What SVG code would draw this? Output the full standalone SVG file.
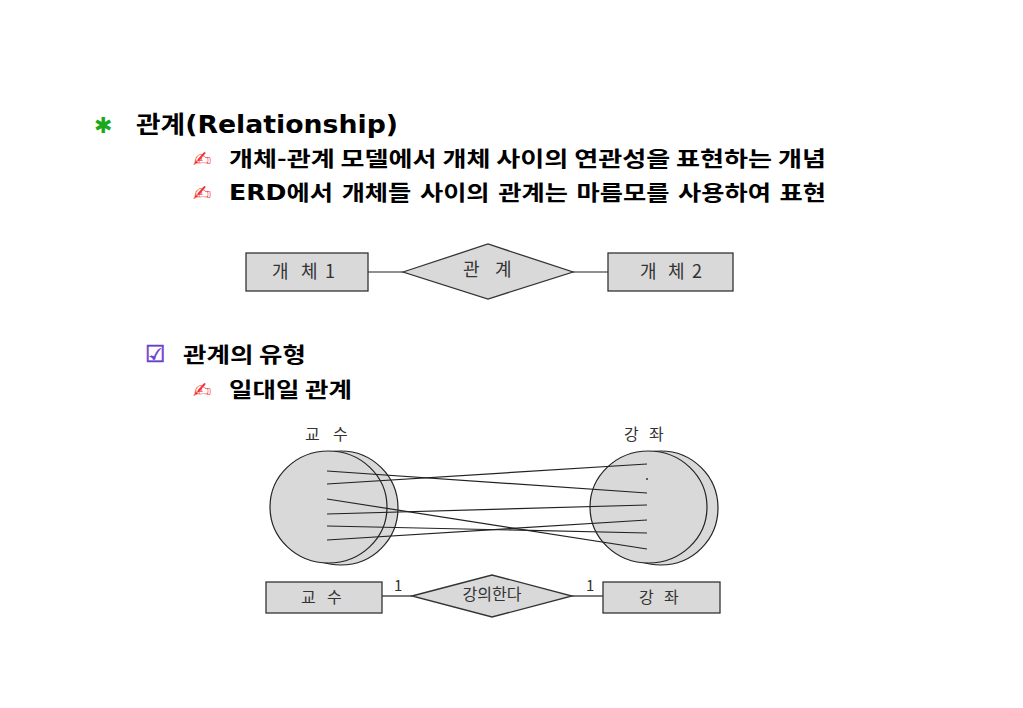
<svg xmlns="http://www.w3.org/2000/svg" width="1023" height="708" viewBox="0 0 1023 708">
<style>
.h{font-family:"DejaVu Sans","Noto Sans CJK KR",sans-serif;font-weight:bold;fill:#000}
.k{font-family:"Noto Sans CJK KR",sans-serif;font-weight:bold;fill:#000}
.d{font-family:"Noto Sans CJK KR","DejaVu Sans",sans-serif;fill:#333}
.box{fill:#d9d9d9;stroke:#333;stroke-width:1.3}
.ln{stroke:#222;stroke-width:1.2;fill:none}
.circ{fill:#d9d9d9;stroke:#222;stroke-width:1.2}
.pen{font-family:"DejaVu Sans",sans-serif;fill:#f03030;font-size:22px}
</style>
<rect width="1023" height="708" fill="#fff"/>
<g id="header">
<text x="94" y="133" font-family="DejaVu Sans,sans-serif" font-size="22" font-weight="bold" fill="#1ca81c">✱</text>
<text class="h" x="136" y="133" font-size="24" textLength="262" lengthAdjust="spacingAndGlyphs">관계(Relationship)</text>
<text class="pen" x="193" y="167">✍</text>
<text class="k" x="229" y="166" font-size="21" textLength="597" lengthAdjust="spacingAndGlyphs">개체-관계 모델에서 개체 사이의 연관성을 표현하는 개념</text>
<text class="pen" x="193" y="201">✍</text>
<text class="h" x="229" y="200" font-size="21" textLength="597" lengthAdjust="spacingAndGlyphs">ERD에서 개체들 사이의 관계는 마름모를 사용하여 표현</text>
<text x="145" y="362" font-family="DejaVu Sans,sans-serif" font-size="23" fill="#6a3fd0" stroke="#6a3fd0" stroke-width="0.6">☑</text>
<text class="k" x="183" y="362" font-size="21" textLength="123" lengthAdjust="spacingAndGlyphs">관계의 유형</text>
<text class="pen" x="193" y="398">✍</text>
<text class="k" x="229" y="397" font-size="21" textLength="123" lengthAdjust="spacingAndGlyphs">일대일 관계</text>
</g>
<g id="connectors">
<line class="ln" x1="368" y1="272" x2="403" y2="272"/>
<line class="ln" x1="573" y1="272" x2="608" y2="272"/>
<line class="ln" x1="382" y1="596" x2="412" y2="596"/>
<line class="ln" x1="572" y1="596" x2="603" y2="596"/>
</g>
<g id="entity1">
<rect class="box" x="246" y="253" width="122" height="38"/>
<text class="d" y="278" font-size="18"><tspan x="272">개</tspan><tspan x="301">체</tspan><tspan x="325">1</tspan></text>
</g>
<g id="relation">
<polygon class="box" points="403,272 488,244 573,272 488,299"/>
<text class="d" y="276" font-size="18"><tspan x="463">관</tspan><tspan x="495">계</tspan></text>
</g>
<g id="entity2">
<rect class="box" x="608" y="253" width="125" height="38"/>
<text class="d" y="278" font-size="18"><tspan x="640">개</tspan><tspan x="668">체</tspan><tspan x="692">2</tspan></text>
</g>
<g id="set-professor">
<text class="d" y="440" font-size="16"><tspan x="305">교</tspan><tspan x="333">수</tspan></text>
<ellipse class="circ" cx="341" cy="508" rx="57" ry="57"/>
<ellipse class="circ" cx="328.5" cy="507" rx="58.5" ry="56"/>
</g>
<g id="set-course">
<text class="d" y="440" font-size="16"><tspan x="624">강</tspan><tspan x="649">좌</tspan></text>
<ellipse class="circ" cx="661" cy="508" rx="57" ry="57"/>
<ellipse class="circ" cx="648.5" cy="507" rx="58.5" ry="56"/>
</g>
<g id="mapping">
<line class="ln" x1="327" y1="471" x2="647" y2="493"/>
<line class="ln" x1="327" y1="484" x2="647" y2="464"/>
<line class="ln" x1="327" y1="499" x2="647" y2="549"/>
<line class="ln" x1="327" y1="514" x2="647" y2="505"/>
<line class="ln" x1="327" y1="526" x2="647" y2="533"/>
<line class="ln" x1="327" y1="540" x2="647" y2="520"/>
<circle cx="647" cy="479" r="0.9" fill="#222"/>
</g>
<g id="professor">
<rect class="box" x="266" y="582" width="116" height="31"/>
<text class="d" y="603" font-size="16"><tspan x="301">교</tspan><tspan x="327">수</tspan></text>
<text class="d" x="394" y="591" font-size="15">1</text>
</g>
<g id="teaches">
<polygon class="box" points="412,596 492,575 572,596 492,617"/>
<text class="d" x="492" y="600" font-size="16" text-anchor="middle">강의한다</text>
</g>
<g id="course">
<rect class="box" x="603" y="582" width="117" height="31"/>
<text class="d" y="603" font-size="16"><tspan x="639">강</tspan><tspan x="664">좌</tspan></text>
<text class="d" x="586" y="591" font-size="15">1</text>
</g>
</svg>
